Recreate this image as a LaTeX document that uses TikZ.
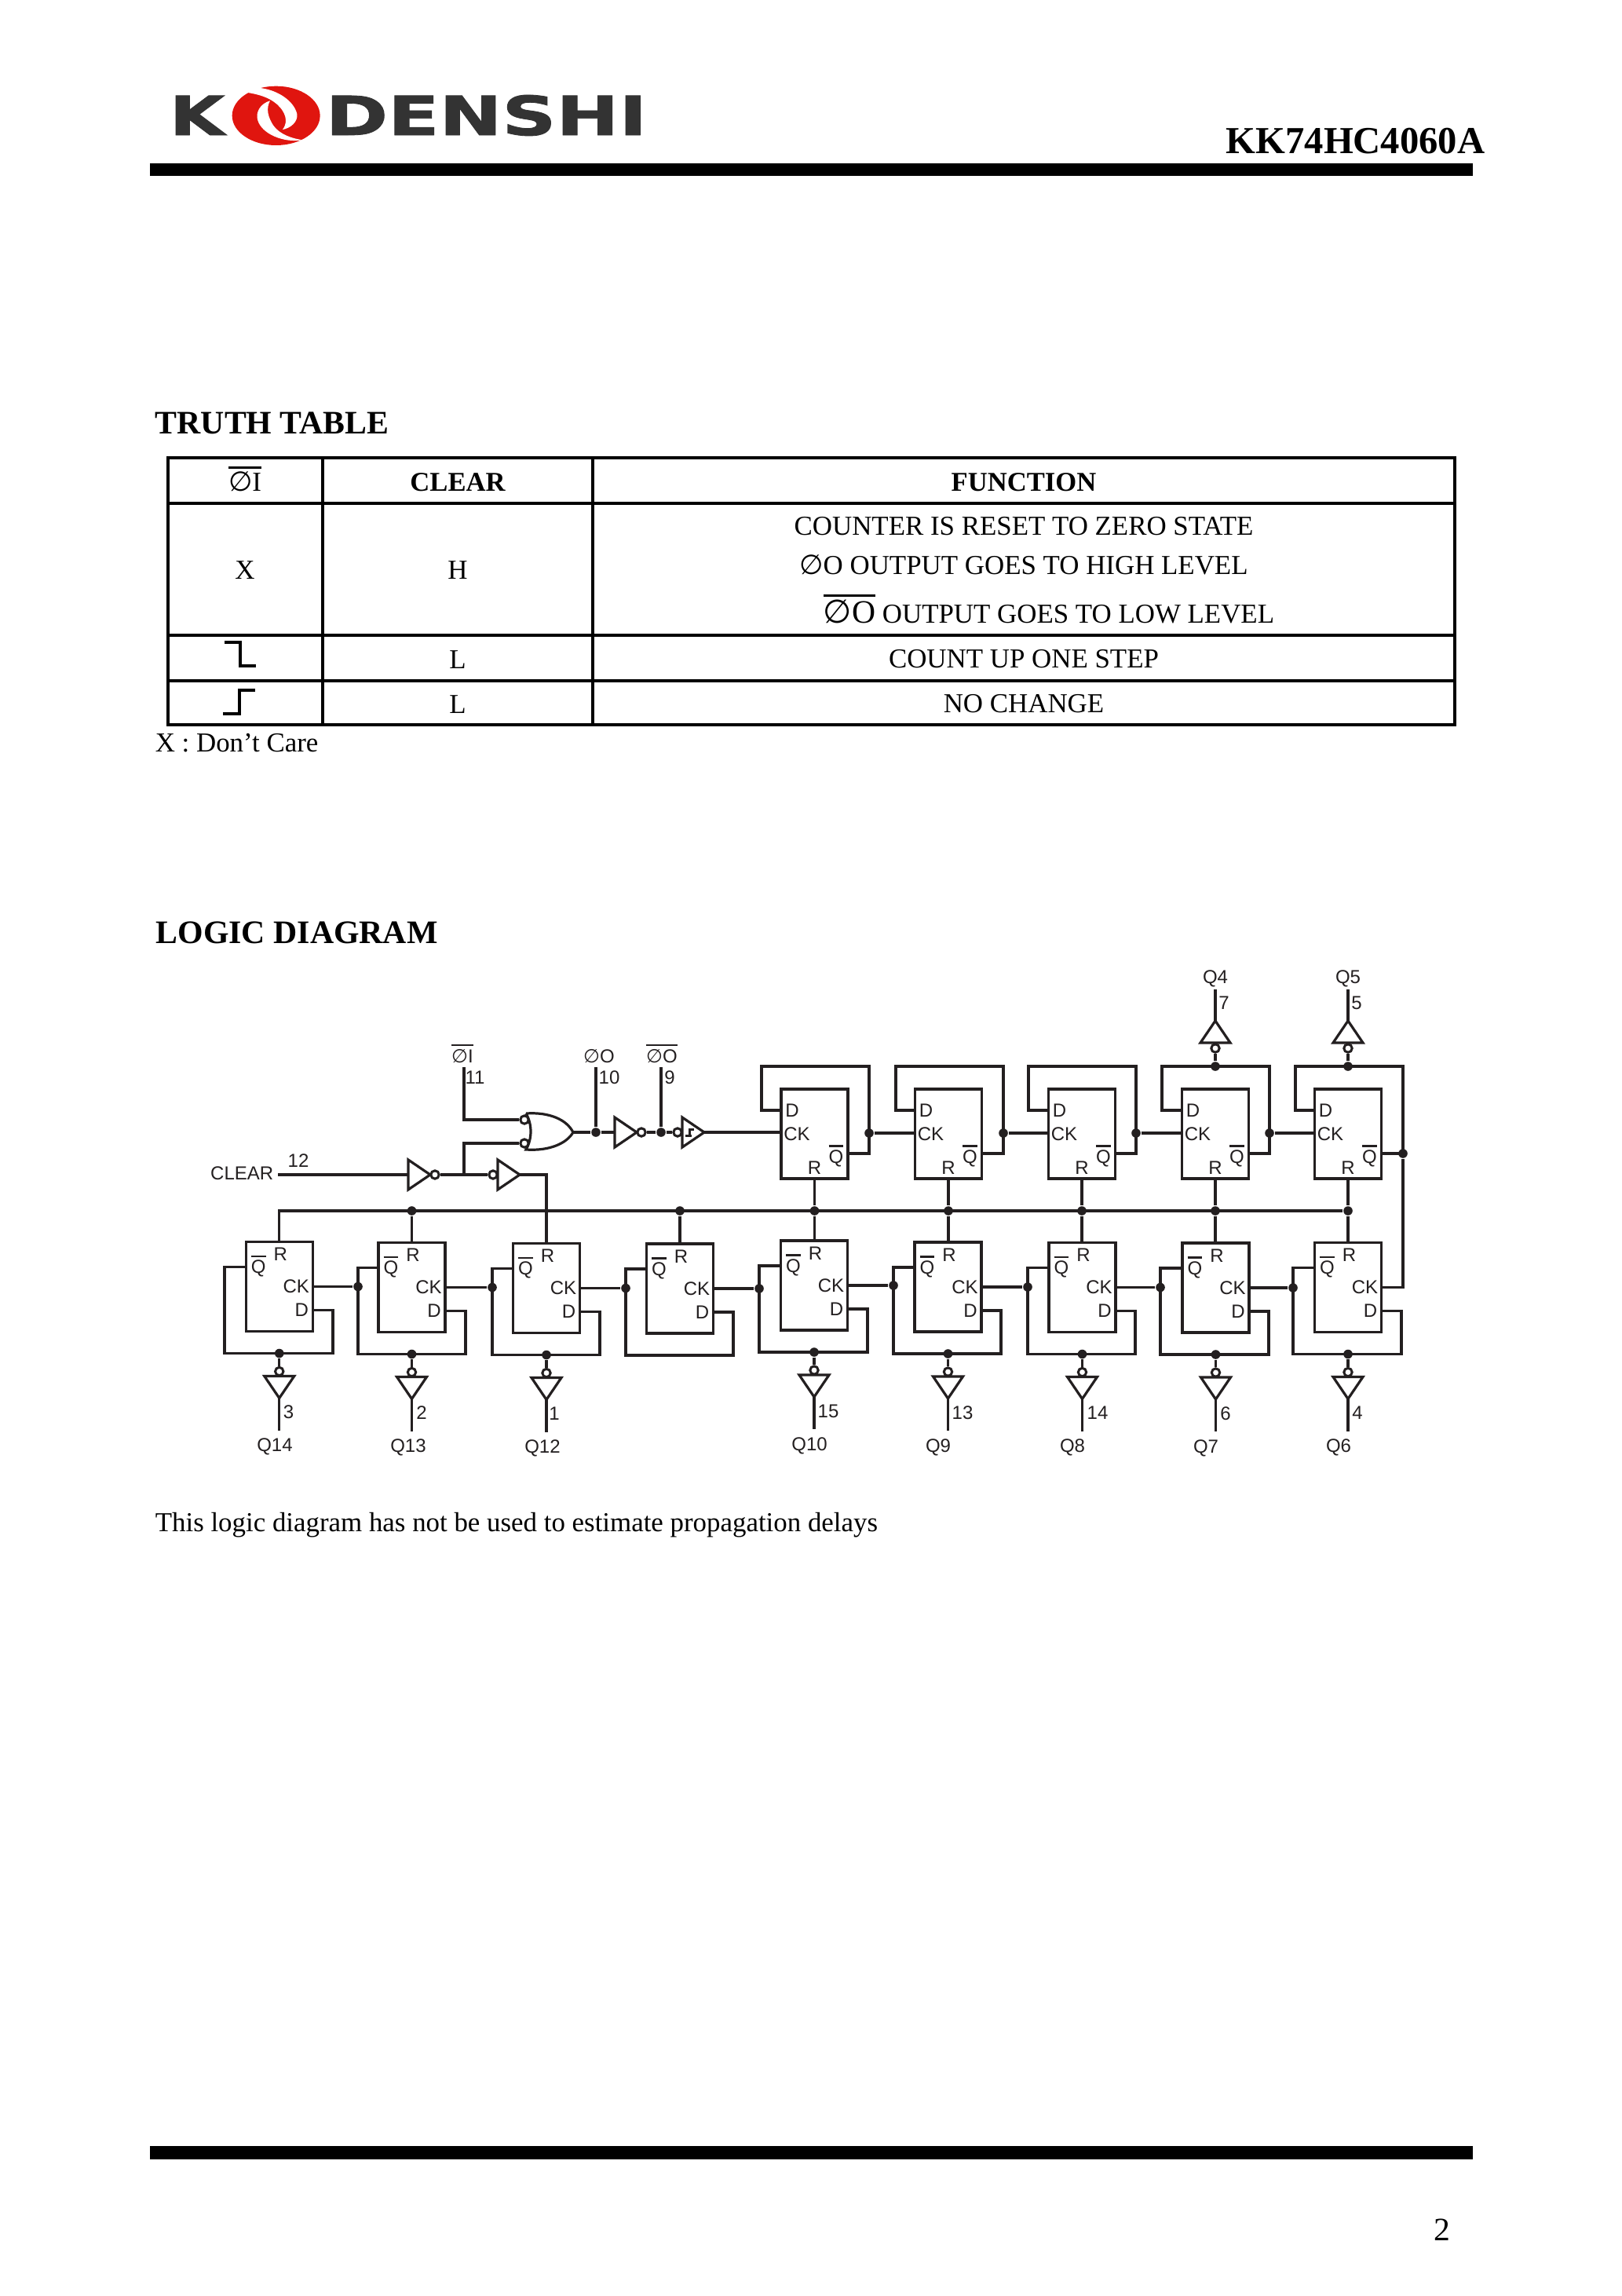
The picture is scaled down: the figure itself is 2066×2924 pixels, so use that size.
\documentclass[tikz,border=0pt]{standalone}
\usepackage{fontspec}
\setmainfont{Liberation Serif}
\setsansfont{Liberation Sans}
\newfontfamily\symfont{DejaVu Sans}
\newfontfamily\logofont{DejaVu Sans}[BoldFeatures={FakeBold=1.2}]
\usetikzlibrary{calc}
\usetikzlibrary{shapes.geometric}
\definecolor{ink}{HTML}{231F20}
\definecolor{logored}{HTML}{E0150F}
\definecolor{logogrey}{HTML}{333333}
\newcommand{\slashO}{{\symfont\char"2205}}
\newcommand{\barred}[1]{\leavevmode\vbox{\hrule height .7pt\kern .9pt\hbox{#1}}}

\begin{document}
\begin{tikzpicture}[x=0.25pt,y=-0.25pt,
    bodytext/.style = {inner sep=0, anchor=base, font=\fontsize{8.72}{10}\selectfont},
    headtext/.style = {inner sep=0, anchor=base west, font=\fontsize{10.45}{12}\selectfont\bfseries},
    pinlabel/.style = {inner sep=0, text=ink, font=\fontsize{6}{7}\sffamily\selectfont},
    tableline/.style = {line width=.9pt},
    wire/.style = {draw=ink, line width=.8pt},
    ffbox/.style = {rectangle, draw=ink, line width=.85pt, fill=white, inner sep=0,
                    minimum width=21.25pt, minimum height=28.5pt},
    junction/.style = {circle, fill=ink, inner sep=0, minimum size=2.9pt},
    bubble/.style = {circle, draw=ink, line width=.75pt, fill=white, inner sep=0, minimum size=2.6pt},
    tri/.style = {isosceles triangle, isosceles triangle stretches, draw=ink, line width=.8pt,
                  fill=white, inner sep=0, outer sep=0, anchor=lower side,
                  minimum width=9.5pt, minimum height=7pt},
    tridown/.style = {tri, rotate=-90, transform shape},
    triup/.style = {tri, rotate=90, transform shape}]
  \useasboundingbox (0,0) rectangle (2066,2924);

  % header and footer
  \fill (191,208) rectangle (1876,224);
  \fill (191,2733) rectangle (1876,2750);
  \node (logok) [inner sep=0, anchor=base west, text=logogrey, font=\fontsize{17.2}{20}\logofont\bfseries\selectfont]
    at (215,172) {\scalebox{1.32}[1]{K}};
  \node (logodenshi) [inner sep=0, anchor=base west, text=logogrey, font=\fontsize{17.2}{20}\logofont\bfseries\selectfont]
    at (414,172) {\scalebox{1.39}[1]{DENSHI}};
  \begin{scope}[shift={(200,95)},x=0.08333pt,y=-0.08333pt]
    \fill[logored] (455,157) ellipse (168 and 113);
    \fill[white] (375,50) .. controls (440,50) and (520,90) .. (535,150)
      .. controls (540,180) and (510,205) .. (480,210)
      .. controls (495,190) and (500,160) .. (470,125)
      .. controls (440,90) and (390,75) .. (340,68) -- cycle;
    \fill[white] (432,100) .. controls (395,110) and (375,145) .. (385,175)
      .. controls (400,225) and (480,262) .. (557,250)
      .. controls (520,245) and (470,230) .. (445,195)
      .. controls (425,165) and (415,130) .. (432,100) -- cycle;
  \end{scope}
  \node (partno) [inner sep=0, anchor=base east, font=\fontsize{12.15}{14}\selectfont\bfseries] at (1892,195) {KK74HC4060A};
  \node (pageno) [bodytext, font=\fontsize{10.4}{12}\selectfont] at (1837,2853) {2};

  % truth table
  \node (truthtitle) [headtext] at (197,552) {TRUTH TABLE};
  \draw[tableline] (214,583) rectangle (1853,923);
  \foreach \y in {641,809,867} \draw[tableline] (214,\y) -- (1853,\y);
  \foreach \x in {411,755} \draw[tableline] (\x,583) -- (\x,923);
  \node (headphi) [bodytext] at (312,625) {\barred{\slashO I}};
  \node (headclear) [bodytext, font=\fontsize{8.65}{10}\selectfont\bfseries] at (583,625) {CLEAR};
  \node (headfunc) [bodytext, font=\fontsize{8.65}{10}\selectfont\bfseries] at (1304,625) {FUNCTION};
  \node (cellx) [bodytext] at (312,737) {X};
  \node (cellh) [bodytext] at (583,737) {H};
  \node (funcreset) [bodytext] at (1304,681) {COUNTER IS RESET TO ZERO STATE};
  \node (funchigh) [bodytext] at (1304,731) {\slashO O OUTPUT GOES TO HIGH LEVEL};
  \node (funclow) [bodytext] at (1336,793) {\barred{\fontsize{10.4}{12}\selectfont\slashO O} OUTPUT GOES TO LOW LEVEL};
  \node (celll) [bodytext] at (583,851) {L};
  \node (funccount) [bodytext] at (1304,850) {COUNT UP ONE STEP};
  \node (cellr) [bodytext] at (583,908) {L};
  \node (funcnone) [bodytext] at (1304,907) {NO CHANGE};
  \draw[line width=1pt] (286,818) -- (306,818) -- (306,848) -- (326,848);
  \draw[line width=1pt] (284,909) -- (305,909) -- (305,879) -- (325,879);
  \node (dontcare) [bodytext, anchor=base west] at (197,957) {X : Don’t Care};

  % logic diagram
  \node (logictitle) [headtext] at (198,1201) {LOGIC DIAGRAM};
  \node (logicnote) [bodytext, anchor=base west] at (197,1950) {This logic diagram has not be used to estimate propagation delays};

  % top row of stages
  \foreach \n/\cx/\lf/\rt in {1/1037.5/970/1107, 2/1208/1141/1278, 3/1378/1310/1447, 4/1548/1480/1617, 5/1717/1650/1787} {
    \node (tff\n) [ffbox] at (\cx,1444) {};
    \node (tffD\n) [pinlabel] at ($(tff\n)+(-28.5,-30)$) {D};
    \node (tffC\n) [pinlabel] at ($(tff\n)+(-22.5,0)$) {CK};
    \node (tffQ\n) [pinlabel] at ($(tff\n)+(27.5,28)$) {\barred{Q}};
    \node (tffR\n) [pinlabel] at ($(tff\n)+(0,43)$) {R};
    \coordinate (tffin\n) at ($(tff\n.west)+(0,-30)$);
    \coordinate (tffout\n) at ($(tff\n.east)+(0,25)$);
    \draw[wire] (tffin\n) -| (\lf,1358) -| (\rt,1469) -- (tffout\n);
  }
  \foreach \n/\m/\rt in {1/2/1107, 2/3/1278, 3/4/1447, 4/5/1617} {
    \node (tdot\n) [junction] at (\rt,1443) {};
    \draw[wire] (tdot\n) -- (tdot\n -| tff\m.west);
  }

  % bottom row of stages
  \foreach \n/\cx/\cy/\lf/\rt in {1/355.75/1638.5/286/424, 2/524.5/1639.5/456/593, 3/696/1640.5/627/764,
      4/866/1641/797/934, 5/1037/1637/967/1105, 6/1207.5/1639/1138/1275,
      7/1378.5/1639.5/1309/1446, 8/1548.5/1640/1478/1616, 9/1717/1639.5/1647/1785} {
    \node (bff\n) [ffbox] at (\cx,\cy) {};
    \node (bffQ\n) [pinlabel] at ($(bff\n)+(-26.5,-26)$) {\barred{Q}};
    \node (bffR\n) [pinlabel] at ($(bff\n)+(1.5,-41)$) {R};
    \node (bffC\n) [pinlabel] at ($(bff\n)+(21.5,0)$) {CK};
    \node (bffD\n) [pinlabel] at ($(bff\n)+(28.5,30)$) {D};
    \coordinate (bffin\n) at ($(bff\n.west)+(0,-25)$);
    \coordinate (bffout\n) at ($(bff\n.east)+(0,30)$);
    \coordinate (bfl\n) at (\lf,\cy+85);
    \draw[wire] (bffin\n) -| (bfl\n) -| (\rt,\cy+30) -- (bffout\n);
  }
  \foreach \n/\m in {1/2, 2/3, 3/4, 4/5, 5/6, 6/7, 7/8, 8/9} {
    \node (bdot\n) [junction] at (bfl\m |- bff\n) {};
    \draw[wire] (bff\n.east) -- (bdot\n);
  }
  \coordinate (lastck) at (1787,1639.5);
  \node (tdotq) [junction] at (1787,1469) {};
  \draw[wire] (tdotq) -- (lastck) -- (bff9.east);

  % reset bus
  \node (rst2) [junction] at (bff2 |- 0,1542) {};
  \node (rst4) [junction] at (bff4 |- 0,1542) {};
  \foreach \n/\m in {5/1, 6/2, 7/3, 8/4, 9/5} {
    \node (rst\n) [junction] at (tff\m |- 0,1542) {};
    \draw[wire] (tff\m.south) -- (rst\n) -- (rst\n |- bff\n.north);
  }
  \draw[wire] (bff1.north) |- (rst9);
  \foreach \n in {2,4} \draw[wire] (rst\n) -- (bff\n.north);

  % outputs of the bottom row
  \foreach \n/\qname/\qx/\pin/\px in {1/Q14/350/3/367.5, 2/Q13/520/2/537, 3/Q12/691/1/706, 5/Q10/1031/15/1055,
      6/Q9/1195/13/1226, 7/Q8/1366/14/1398, 8/Q7/1536/6/1561, 9/Q6/1705/4/1729} {
    \node (bout\n) [junction] at (bfl\n -| bff\n) {};
    \node (binv\n) [tridown] at ($(bout\n)+(0,29)$) {};
    \node (bbub\n) [bubble] at ($(bout\n)+(0,23)$) {};
    \coordinate (bend\n) at ($(bout\n)+(0,98)$);
    \draw[wire] (bout\n) -- (bbub\n);
    \draw[wire] (binv\n.apex) -- (bend\n);
    \node (bpin\n) [pinlabel] at ($(\px,0 |- bout\n)+(0,75)$) {\pin};
    \node (bname\n) [pinlabel, anchor=base] at ($(\qx,0 |- bout\n)+(0,125)$) {\qname};
  }

  % outputs of the top row
  \foreach \n/\qname/\pin/\px in {4/Q4/7/1559, 5/Q5/5/1728} {
    \node (tout\n) [junction] at (tff\n |- 0,1358) {};
    \node (tinv\n) [triup] at (tff\n |- 0,1328) {};
    \node (tbub\n) [bubble] at (tff\n |- 0,1335) {};
    \coordinate (tend\n) at (tff\n |- 0,1260);
    \draw[wire] (tout\n) -- (tbub\n);
    \draw[wire] (tinv\n.apex) -- (tend\n);
    \node (tpin\n) [pinlabel] at (\px,1277) {\pin};
    \node (tname\n) [pinlabel, anchor=base] at (tff\n |- 0,1252) {\qname};
  }

  % clock input
  \draw[wire] (670,1418) .. controls (700,1416) and (722,1426) .. (730,1442)
    .. controls (722,1456) and (700,1466) .. (670,1464)
    .. controls (678,1450) and (678,1432) .. (670,1418);
  \coordinate (norout) at (730,1442);
  \node (norbuba) [bubble] at (668,1426) {};
  \node (norbubb) [bubble] at (668,1456) {};
  \coordinate (pinphii) at (591,1359);
  \draw[wire] (pinphii) |- (norbuba);
  \node (dotphio) [junction] at (759,1442) {};
  \coordinate (pinphio) at (759,1359);
  \node (invosc) [tri] at (783,1442) {};
  \node (bubosc) [bubble] at (817,1442) {};
  \node (dotphin) [junction] at (842,1442) {};
  \coordinate (pinphin) at (842,1359);
  \node (bufosc) [tri] at (869,1442) {};
  \node (bufbub) [bubble] at (863,1442) {};
  \draw[line width=.8pt,draw=ink] (873,1446.5) -- (878.5,1446.5) -- (878.5,1438.5) -- (884,1438.5);
  \draw[line width=.8pt,draw=ink] (876,1446.5) -- (881,1446.5);
  \draw[wire] (norout) -- (dotphio) -- (invosc.lower side);
  \draw[wire] (bubosc) -- (dotphin) -- (bufbub);
  \draw[wire] (dotphio) -- (pinphio);
  \draw[wire] (dotphin) -- (pinphin);
  \draw[wire] (bufosc.apex) -- (tff1.west |- bufosc.apex);
  \node (labphii) [pinlabel, anchor=base] at (589,1353) {\barred{\slashO I}};
  \node (labphio) [pinlabel, anchor=base] at (763,1353) {\slashO O};
  \node (labphin) [pinlabel, anchor=base] at (843,1353) {\barred{\slashO O}};
  \node (pin11) [pinlabel] at (605,1372) {11};
  \node (pin10) [pinlabel] at (776,1372) {10};
  \node (pin9) [pinlabel] at (853,1372) {9};

  % clear input
  \node (clearlab) [pinlabel, anchor=east] at (349,1494) {CLEAR};
  \node (pin12) [pinlabel] at (380,1478) {12};
  \coordinate (clearpin) at (354,1496);
  \node (invclr) [tri] at (520,1496) {};
  \node (bubclr) [bubble] at (554,1496) {};
  \coordinate (clrtee) at (591,1496);
  \node (bufclr) [tri] at (634,1496) {};
  \node (bufbubclr) [bubble] at (628,1496) {};
  \draw[wire] (clearpin) -- (invclr.lower side);
  \draw[wire] (bubclr) -- (clrtee) -- (bufbubclr);
  \draw[wire] (clrtee) |- (norbubb);
  \draw[wire] (bufclr.apex) -| (bff3.north);
\end{tikzpicture}
\end{document}
